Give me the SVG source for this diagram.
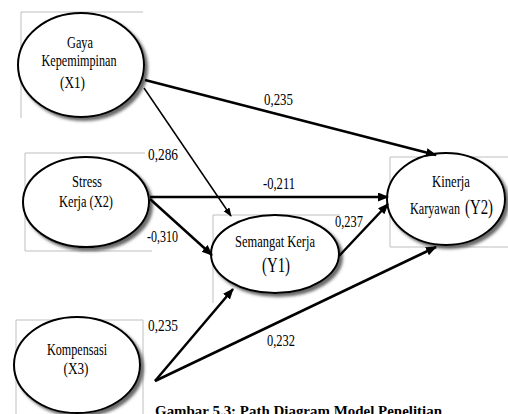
<svg xmlns="http://www.w3.org/2000/svg" width="508" height="414" viewBox="0 0 508 414">
<defs>
<style>
.box{fill:none;stroke:#bfbfbf;stroke-width:1}
.node{fill:#fff;stroke:#000;stroke-width:2;filter:url(#sh)}
.t{font-family:"Liberation Serif","Times New Roman",serif;font-size:17px;fill:#000;text-anchor:middle}
.lbl{font-family:"Liberation Serif","Times New Roman",serif;font-size:16px;fill:#000}
.c{fill:none;stroke:#000;stroke-width:2.5}
.thin{stroke-width:1.5}
.cap{font-family:"Liberation Serif","Times New Roman",serif;font-size:15px;font-weight:bold;fill:#000}
</style>
<filter id="sh" x="-20%" y="-20%" width="150%" height="150%">
<feDropShadow dx="3" dy="3" stdDeviation="1.5" flood-color="#444" flood-opacity="0.8"/>
</filter>
<marker id="ar" markerUnits="userSpaceOnUse" markerWidth="12" markerHeight="10" refX="10" refY="4.5" orient="auto">
<path d="M0,0 L11,4.5 L0,9 z" fill="#000"/>
</marker>
<marker id="ars" markerUnits="userSpaceOnUse" markerWidth="10" markerHeight="8" refX="8" refY="3.5" orient="auto">
<path d="M0,0 L9,3.5 L0,7 z" fill="#000"/>
</marker>
</defs>
<rect width="508" height="414" fill="#fff"/>
<g id="frames">
<path class="box" d="M21,118 V12 H143"/>
<path class="box" d="M152,251 H25 V153 H145"/>
<path class="box" d="M340,215 H213 V303"/>
<path class="box" d="M508,157 H390 V247 H508"/>
<path class="box" d="M16,414 V320 H143 V414"/>
</g>
<g id="x1">
<ellipse class="node" cx="81" cy="65" rx="63" ry="52"/>
<text class="t" x="80" y="48" textLength="26" lengthAdjust="spacingAndGlyphs">Gaya</text>
<text class="t" x="79" y="66" textLength="75" lengthAdjust="spacingAndGlyphs">Kepemimpinan</text>
<text class="t" x="72.5" y="88" textLength="25" lengthAdjust="spacingAndGlyphs">(X1)</text>
</g>
<g id="x2">
<ellipse class="node" cx="86" cy="202" rx="63" ry="45"/>
<text class="t" x="87" y="187" textLength="30" lengthAdjust="spacingAndGlyphs">Stress</text>
<text class="t" x="86" y="207" textLength="54" lengthAdjust="spacingAndGlyphs">Kerja (X2)</text>
</g>
<g id="x3">
<ellipse class="node" cx="77" cy="365" rx="63" ry="48"/>
<text class="t" x="77" y="355" textLength="60" lengthAdjust="spacingAndGlyphs">Kompensasi</text>
<text class="t" x="76" y="374" textLength="25" lengthAdjust="spacingAndGlyphs">(X3)</text>
</g>
<g id="y1">
<ellipse class="node" cx="275" cy="254" rx="64" ry="39"/>
<text class="t" x="275" y="247" textLength="80" lengthAdjust="spacingAndGlyphs">Semangat Kerja</text>
<text class="t" x="276" y="272" style="font-size:20px" textLength="28" lengthAdjust="spacingAndGlyphs">(Y1)</text>
</g>
<g id="y2">
<ellipse class="node" cx="446" cy="199" rx="59" ry="46"/>
<text class="t" x="451" y="187" textLength="38" lengthAdjust="spacingAndGlyphs">Kinerja</text>
<text class="t" x="460" y="214" style="text-anchor:end" textLength="50" lengthAdjust="spacingAndGlyphs">Karyawan</text>
<text class="t" x="465" y="214" style="font-size:20px;text-anchor:start" textLength="28" lengthAdjust="spacingAndGlyphs">(Y2)</text>
</g>
<g id="connectors">
<path class="c" d="M145,80 L436,155" marker-end="url(#ar)"/>
<path class="c thin" d="M144,88 L231,216" marker-end="url(#ars)"/>
<path class="c" d="M150,197 L388,197" marker-end="url(#ar)"/>
<path class="c" d="M150,199 L212,255" marker-end="url(#ar)"/>
<path class="c" d="M339,256 L388,204" marker-end="url(#ar)"/>
<path class="c" d="M155,381 L233,289" marker-end="url(#ar)"/>
<path class="c" d="M155,381 L436,247" marker-end="url(#ar)"/>
</g>
<g id="labels">
<text class="lbl" x="264" y="105" textLength="29" lengthAdjust="spacingAndGlyphs">0,235</text>
<text class="lbl" x="148" y="160" textLength="30" lengthAdjust="spacingAndGlyphs">0,286</text>
<text class="lbl" x="263" y="189" textLength="32" lengthAdjust="spacingAndGlyphs">-0,211</text>
<text class="lbl" x="147" y="242" textLength="31" lengthAdjust="spacingAndGlyphs">-0,310</text>
<text class="lbl" x="335" y="227" textLength="28" lengthAdjust="spacingAndGlyphs">0,237</text>
<text class="lbl" x="148" y="331" textLength="30" lengthAdjust="spacingAndGlyphs">0,235</text>
<text class="lbl" x="267" y="346" textLength="28" lengthAdjust="spacingAndGlyphs">0,232</text>
</g>
<text class="cap" x="155" y="416" textLength="287" lengthAdjust="spacingAndGlyphs">Gambar 5.3:  Path Diagram Model Penelitian</text>
</svg>
